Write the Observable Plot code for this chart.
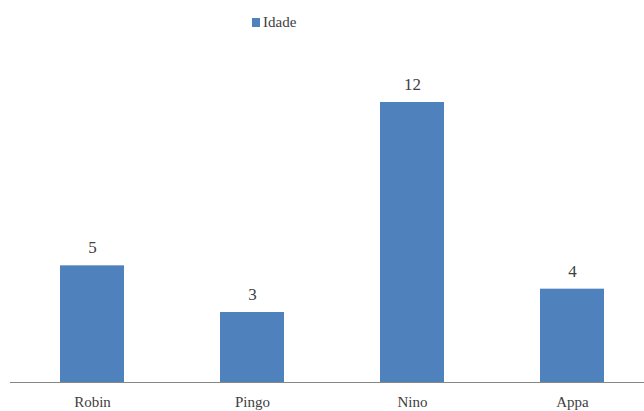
<!DOCTYPE html>
<html>
<head>
<meta charset="utf-8">
<script src="https://cdn.jsdelivr.net/npm/d3@7"></script>
<script src="https://cdn.jsdelivr.net/npm/@observablehq/plot@0.6"></script>
</head>
<body style="margin:0;padding:0;background:#fff;overflow:hidden">
<div id="legend" style="height:40px;position:relative;font-family:'Liberation Serif';font-size:15px;color:#404040">
  <div style="position:absolute;left:252px;top:15px;display:flex;align-items:center;line-height:1">
    <span style="width:8px;height:9px;background:#4F81BD;margin-right:3px;display:inline-block"></span><span id="legendLabel"></span>
  </div>
</div>
<div id="chart"></div>
<script>
const categories = ["Robin", "Pingo", "Nino", "Appa"];
const idade = [5, 3, 12, 4];
const seriesName = "Idade";

document.getElementById("legendLabel").textContent = seriesName;

const data = categories.map((c, i) => ({name: c, value: idade[i]}));

const chart = Plot.plot({
  width: 644,
  height: 371,
  marginLeft: 10,
  marginRight: 0,
  marginTop: 0,
  marginBottom: 29,
  style: {fontFamily: "Liberation Serif", color: "#404040", background: "#fff"},
  x: {domain: categories, range: [12, 652], paddingInner: 0.6, paddingOuter: 0.3, label: null},
  y: {domain: [0, 12], range: [342, 62], axis: null},
  marks: [
    Plot.barY(data, {x: "name", y: "value", fill: "#4F81BD"}),
    Plot.ruleY([0], {stroke: "#868686", strokeWidth: 1}),
    Plot.text(data, {x: "name", y: "value", text: d => String(d.value), dy: -18, fontSize: 17, fill: "#404040"}),
    Plot.axisX({tickSize: 0, tickPadding: 14, fontSize: 15, fill: "#404040", label: null})
  ]
});
chart.style.display = "block";
document.getElementById("chart").appendChild(chart);
</script>
</body>
</html>
